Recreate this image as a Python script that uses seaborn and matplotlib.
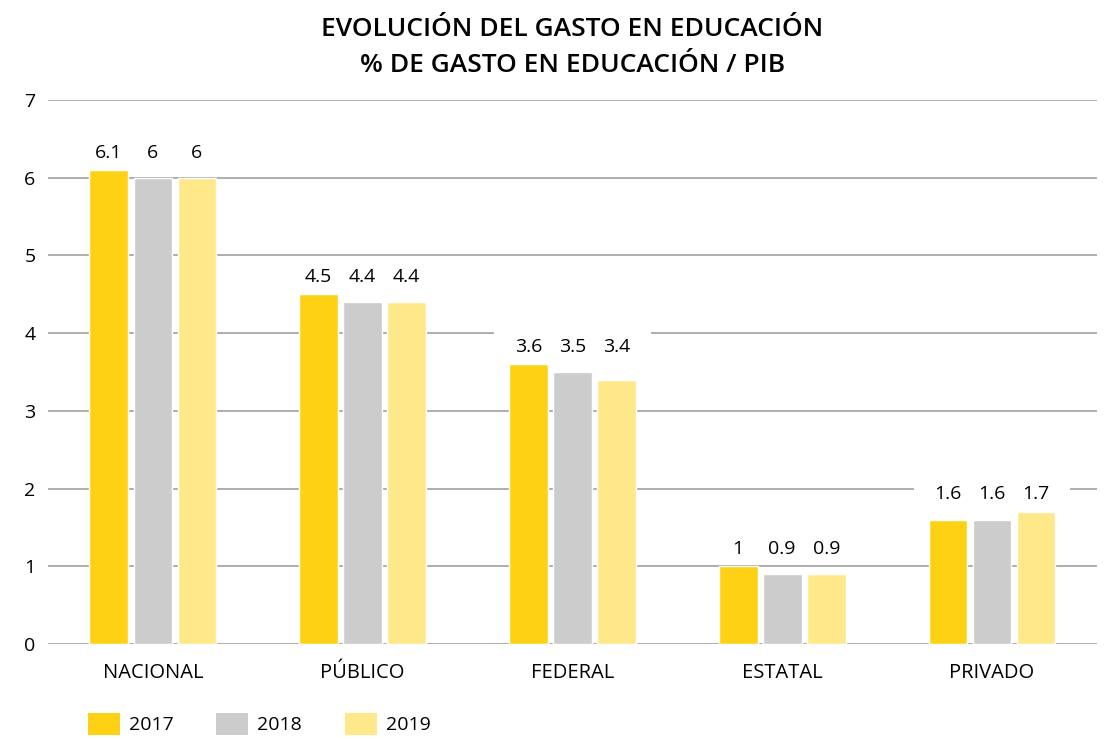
import seaborn as sns
import matplotlib.pyplot as plt
import pandas as pd
from matplotlib.patches import Patch, Rectangle

# Datos: % de gasto en educación / PIB
categorias = ['NACIONAL', 'PÚBLICO', 'FEDERAL', 'ESTATAL', 'PRIVADO']
anios = ['2017', '2018', '2019']
gasto_2017 = [6.1, 4.5, 3.6, 1.0, 1.6]
gasto_2018 = [6.0, 4.4, 3.5, 0.9, 1.6]
gasto_2019 = [6.0, 4.4, 3.4, 0.9, 1.7]
etiquetas = [['6.1', '4.5', '3.6', '1', '1.6'],
             ['6', '4.4', '3.5', '0.9', '1.6'],
             ['6', '4.4', '3.4', '0.9', '1.7']]
colores = ['#FFD115', '#CCCCCC', '#FFE88A']

df = pd.DataFrame({
    'categoria': categorias * 3,
    'anio': [a for a in anios for _ in categorias],
    'gasto': gasto_2017 + gasto_2018 + gasto_2019,
})

sns.set_style('white')
plt.rcParams['font.family'] = ['Open Sans', 'DejaVu Sans']
plt.rcParams['text.color'] = 'black'
plt.rcParams['xtick.color'] = 'black'
plt.rcParams['ytick.color'] = 'black'

fig = plt.figure(figsize=(11.04, 7.39), dpi=100)
ax = fig.add_axes([0.0435, 0.1286, 0.950, 0.7361])

sns.barplot(data=df, x='categoria', y='gasto', hue='anio', order=categorias,
            hue_order=anios, palette=colores, width=0.63, gap=0.12,
            saturation=1, legend=False, ax=ax, zorder=2)

ax.set_ylim(0, 7)
ax.set_xlim(-0.5, 4.5)
ax.set_yticks(range(0, 8))
ax.yaxis.grid(True, color='#A0A0A0', linewidth=1.2, zorder=0)
ax.set_axisbelow(True)
for s in ['top', 'right', 'left', 'bottom']:
    ax.spines[s].set_visible(False)
ax.tick_params(axis='y', length=0, labelsize=14, pad=9)
ax.tick_params(axis='x', length=0, labelsize=14.5, pad=14)
ax.set_xlabel('')
ax.set_ylabel('')

# Etiquetas de valores: alineadas a la altura máxima de cada grupo,
# con un fondo blanco por grupo que tapa la rejilla
maximos = [max(v) for v in zip(gasto_2017, gasto_2018, gasto_2019)]
primeras = ax.containers[0]
ultimas = ax.containers[-1]
for b0, b1, mx in zip(primeras, ultimas, maximos):
    x0 = b0.get_x() - 0.07
    x1 = b1.get_x() + b1.get_width() + 0.07
    ax.add_patch(Rectangle((x0, mx + 0.03), x1 - x0, 0.38, fc='white',
                           ec='none', zorder=1))

for cont, labs in zip(ax.containers, etiquetas):
    for barra, lab, mx in zip(cont, labs, maximos):
        xc = barra.get_x() + barra.get_width() / 2
        ax.annotate(lab, (xc, mx), xytext=(0, 12.5),
                    textcoords='offset points', ha='center', va='center',
                    fontsize=14, zorder=3)

ax.set_title('EVOLUCIÓN DEL GASTO EN EDUCACIÓN\n% DE GASTO EN EDUCACIÓN / PIB',
             fontsize=19, fontweight='semibold', pad=20, linespacing=1.6)

handles = [Patch(facecolor=c, edgecolor='none') for c in colores]
fig.legend(handles, anios, loc='center left', bbox_to_anchor=(0.0797, 0.0203),
           ncol=3, frameon=False, fontsize=14, handlelength=1.65,
           handleheight=1.4, columnspacing=2.2, handletextpad=0.45,
           borderpad=0, borderaxespad=0)

fig.savefig('out.png', dpi=100)
